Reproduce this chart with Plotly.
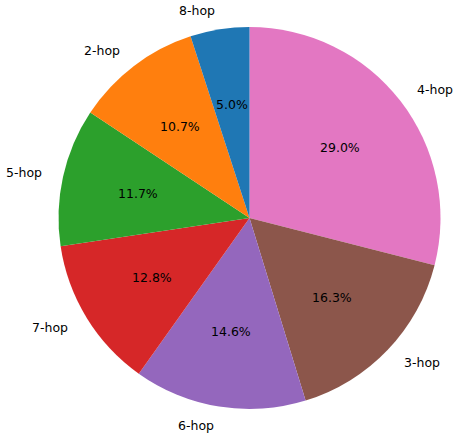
import math
import plotly.graph_objects as go

labels = ["8-hop", "2-hop", "5-hop", "7-hop", "6-hop", "3-hop", "4-hop"]
values = [5.0, 10.7, 11.7, 12.8, 14.6, 16.3, 29.0]
colors = ["#1f77b4", "#ff7f0e", "#2ca02c", "#d62728", "#9467bd", "#8c564b", "#e377c2"]

W, H = 454, 439
ML, MT = 58, 27
PW, PH = 383, 382
MR, MB = W - ML - PW, H - MT - PH
R = min(PW, PH) / 2

fig = go.Figure()
# drawn clockwise from 12 o'clock in reversed order == counterclockwise from 12 o'clock in given order
fig.add_trace(go.Pie(
    labels=labels[::-1], values=values[::-1], sort=False, direction="clockwise",
    rotation=0, marker=dict(colors=colors[::-1], line=dict(width=0)),
    textinfo="none", hoverinfo="label+percent", showlegend=False,
    domain=dict(x=[0, 1], y=[0, 1]),
))

font = dict(family="DejaVu Sans", size=12.5, color="black")
total = sum(values)
start = 90.0
for lab, v in zip(labels, values):
    span = v / total * 360.0
    mid = math.radians(start + span / 2)
    start += span
    c, s = math.cos(mid), math.sin(mid)
    fig.add_annotation(x=0.5 + 1.1 * c * R / PW, y=0.5 + 1.1 * s * R / PH,
                       xref="paper", yref="paper", text=lab,
                       showarrow=False, font=font,
                       xanchor="left" if c > 0 else "right", yanchor="middle")
    fig.add_annotation(x=0.5 + 0.6 * c * R / PW, y=0.5 + 0.6 * s * R / PH,
                       xref="paper", yref="paper",
                       text=f"{v / total * 100:.1f}%",
                       showarrow=False, font=font, xanchor="center", yanchor="middle")

fig.update_layout(
    width=W, height=H, margin=dict(l=ML, r=MR, t=MT, b=MB),
    paper_bgcolor="white",
)
fig.write_html("out.html", config={"displayModeBar": False},
               post_script="document.body.style.margin='0';document.body.style.overflow='hidden';")
